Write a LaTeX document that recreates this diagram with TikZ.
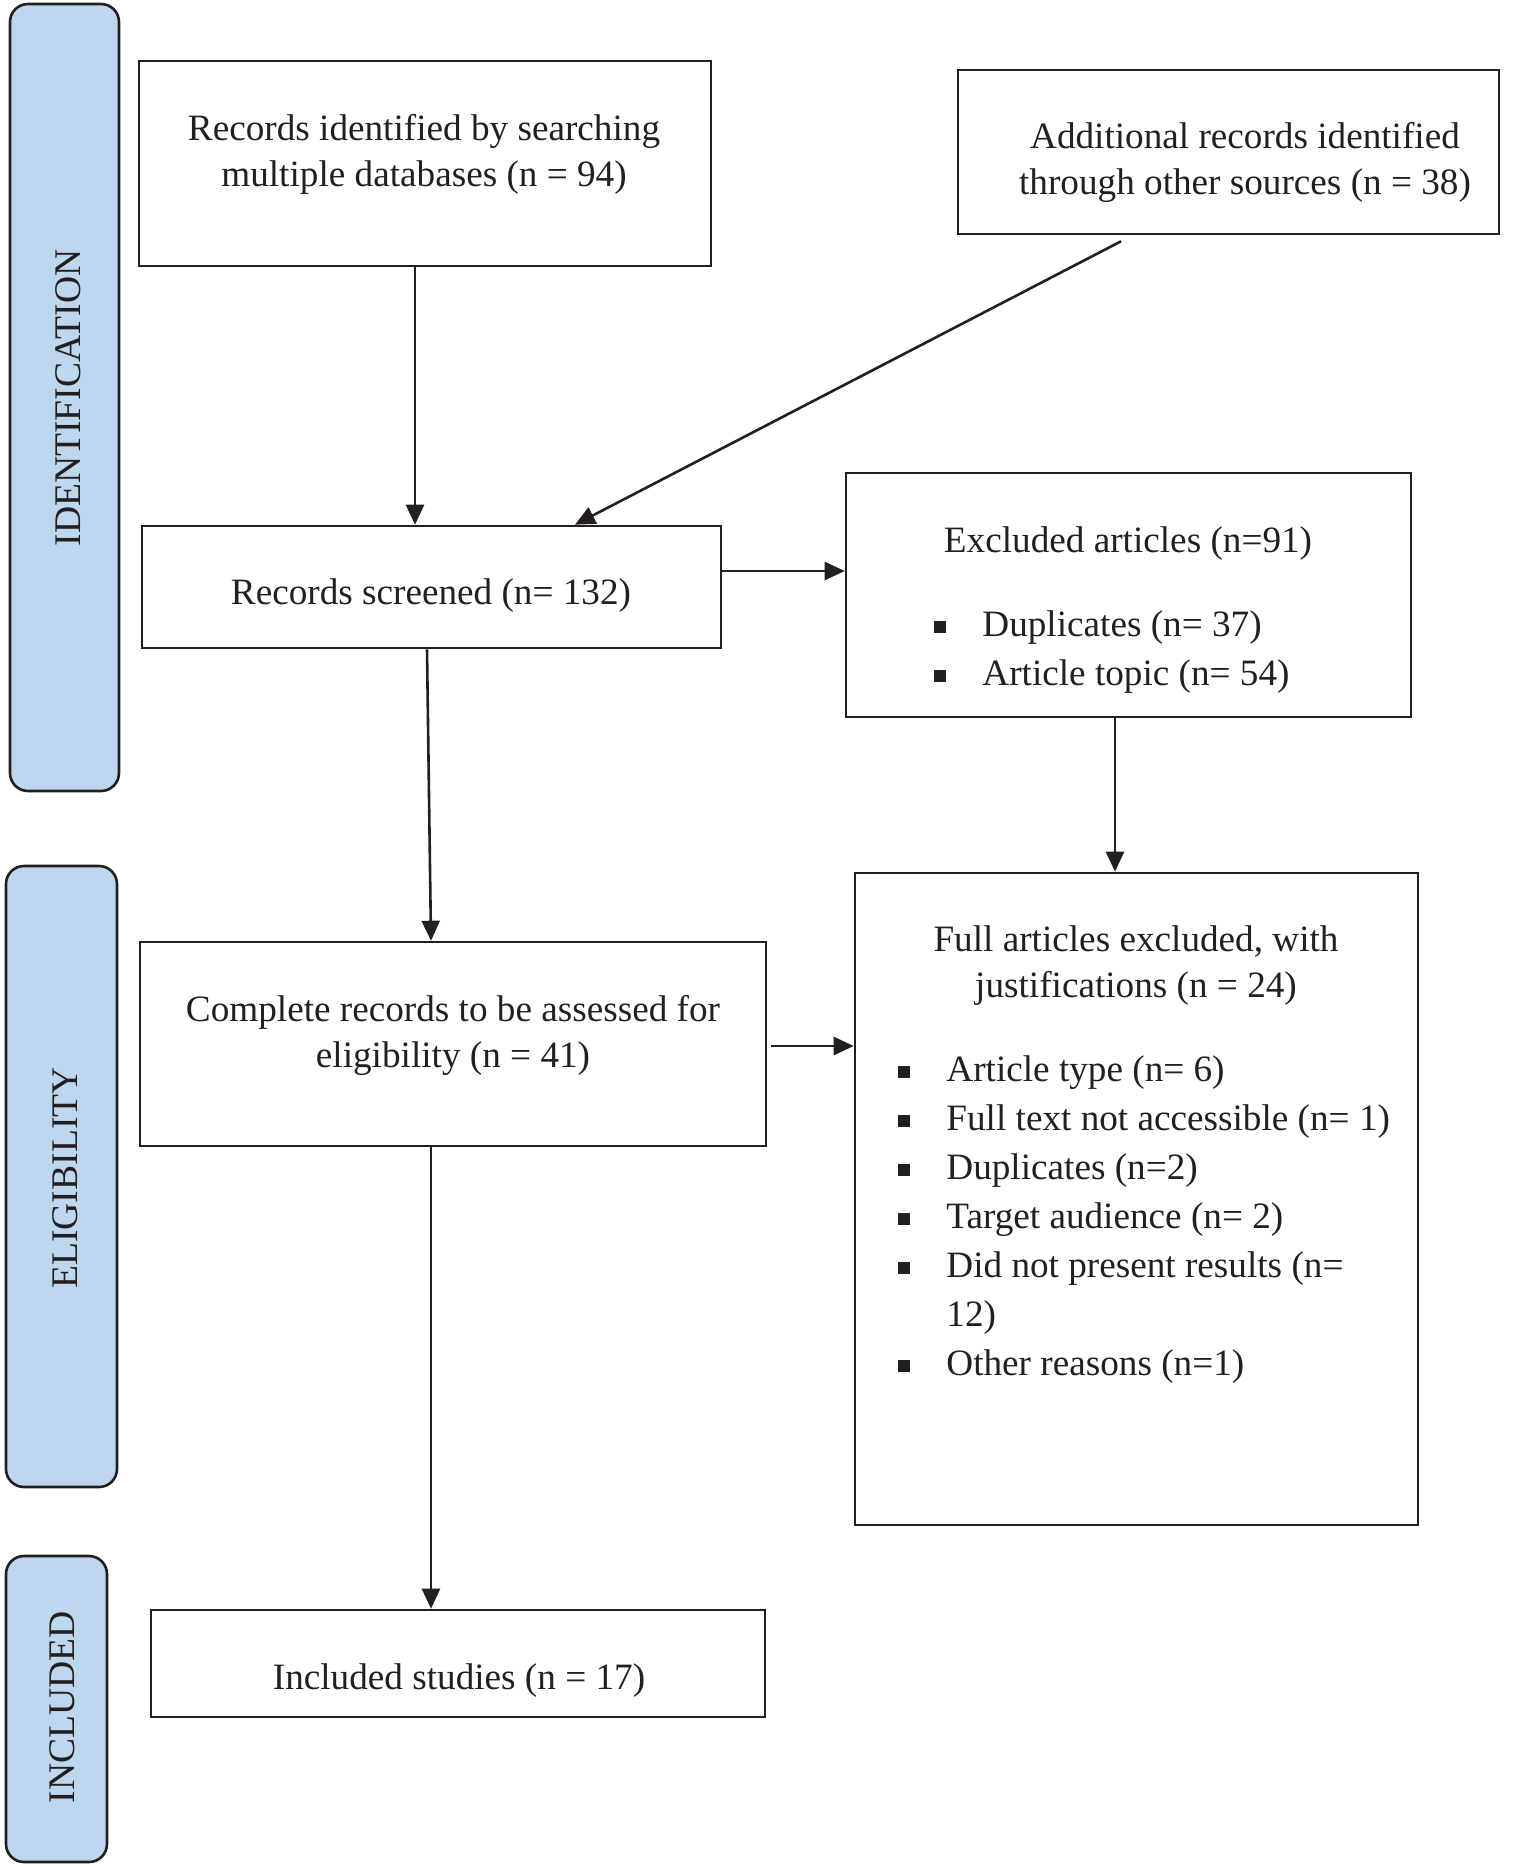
\documentclass[tikz,border=0pt]{standalone}
\usepackage{fontspec}
\setmainfont{Liberation Serif}
\usetikzlibrary{arrows.meta,fit}
\definecolor{barblue}{HTML}{BDD7EE}
\definecolor{ink}{HTML}{231F20}
\newcommand\bul{\makebox[24pt][l]{\raisebox{1.8pt}{\rule{6pt}{6pt}}}}
\begin{document}
\begin{tikzpicture}[x=0.5pt,y=-0.5pt,
  box/.style={draw=ink, line width=1.3pt, inner sep=0pt},
  bar/.style={draw=ink, fill=barblue, line width=1.3pt, rounded corners=9pt, inner sep=0pt},
  txt/.style={text=ink, font=\fontsize{18.6}{23}\selectfont, align=center, inner sep=0pt},
  lst/.style={text=ink, font=\fontsize{18.6}{24.5}\selectfont, align=left, inner sep=0pt, anchor=west},
  side/.style={text=ink, font=\fontsize{18.8}{20}\selectfont, rotate=90, inner sep=0pt},
  arr/.style={draw=ink, line width=1.3pt, -{Triangle[length=10pt,width=9pt]}}]
\useasboundingbox (0,0) rectangle (1537,1867);
% side bars
\node[bar, fit={(10,4) (119,791)}] (identbar) {};
\node[bar, fit={(6,866) (117,1487)}] (eligbar) {};
\node[bar, fit={(6,1556) (107,1862)}] (inclbar) {};
\node[side] (identlab) at (68,398) {IDENTIFICATION};
\node[side] (eliglab) at (65,1178) {ELIGIBILITY};
\node[side] (incllab) at (62,1707) {INCLUDED};
% boxes
\node[box, fit={(139,61) (711,266)}] (b1) {};
\node[box, fit={(958,70) (1499,234)}] (b2) {};
\node[box, fit={(142,526) (721,648)}] (b3) {};
\node[box, fit={(846,473) (1411,717)}] (b4) {};
\node[box, fit={(140,942) (766,1146)}] (b5) {};
\node[box, fit={(855,873) (1418,1525)}] (b6) {};
\node[box, fit={(151,1610) (765,1717)}] (b7) {};
% texts
\node[txt] (t1) at (424,154) {Records identified by searching\\multiple databases (n = 94)};
\node[txt] (t2) at (1245,162) {Additional records identified\\through other sources (n = 38)};
\node[txt] (t3) at (431,596) {Records screened (n= 132)};
\node[txt] (t4) at (1128,544) {Excluded articles (n=91)};
\node[lst] (l4) at (934,652) {\bul Duplicates (n= 37)\\\bul Article topic (n= 54)};
\node[txt] (t5) at (453,1035) {Complete records to be assessed for\\eligibility (n = 41)};
\node[txt] (t6) at (1136,966) {Full articles excluded, with\\justifications (n = 24)};
\node[lst] (l6) at (898,1220) {\bul Article type (n= 6)\\\bul Full text not accessible (n= 1)\\\bul Duplicates (n=2)\\\bul Target audience (n= 2)\\\bul Did not present results (n=\\\hspace*{24pt}12)\\\bul Other reasons (n=1)};
\node[txt] (t7) at (459,1681) {Included studies (n = 17)};
% helper coordinates
\coordinate (x1) at (415,0);
\coordinate (x2s) at (1121,0);
\coordinate (x2e) at (575,0);
\coordinate (y34) at (0,571);
\coordinate (x35s) at (427,0);
\coordinate (x35e) at (431,0);
\coordinate (x46) at (1115,0);
\coordinate (y56) at (0,1046);
\coordinate (x57) at (431,0);
% connectors
\draw[arr] (b1.south -| x1) -- (b3.north -| x1);
\draw[arr] ([yshift=-3pt]b2.south -| x2s) -- (b3.north -| x2e);
\draw[arr] (b3.east |- y34) -- (b4.west |- y34);
\draw[arr] (b3.south -| x35s) -- (b5.north -| x35e);
\draw[arr] (b4.south -| x46) -- (b6.north -| x46);
\draw[arr] ([xshift=2pt]b5.east |- y56) -- (b6.west |- y56);
\draw[arr] (b5.south -| x57) -- (b7.north -| x57);
\end{tikzpicture}
\end{document}
